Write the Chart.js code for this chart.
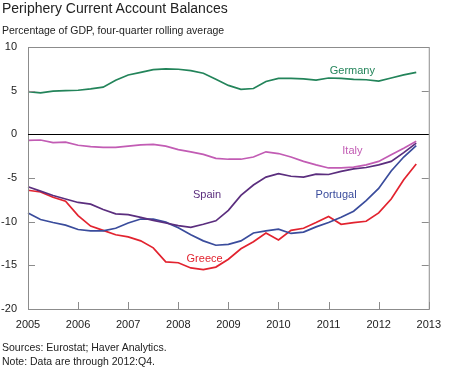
<!DOCTYPE html>
<html>
<head>
<meta charset="utf-8">
<script src="https://cdn.jsdelivr.net/npm/chart.js@4"></script>
<style>
  body { margin: 0; background: #fff; font-family: "Liberation Sans", Arial, sans-serif; color: #222; }
  #wrap { position: relative; width: 450px; height: 369px; overflow: hidden; }
  #chart { position: absolute; left: 0; top: 0; }
  .txt { position: absolute; left: 2px; white-space: nowrap; }
  #title { top: 0px; font-size: 14px; }
  #sub { top: 24px; font-size: 10.5px; }
  #src { top: 341px; font-size: 10.5px; }
  #note { top: 355px; font-size: 10.5px; }
</style>
</head>
<body>
<div id="wrap">
  <canvas id="chart" width="450" height="369"></canvas>
  <div class="txt" id="title">Periphery Current Account Balances</div>
  <div class="txt" id="sub">Percentage of GDP, four-quarter rolling average</div>
  <div class="txt" id="src">Sources: Eurostat; Haver Analytics.</div>
  <div class="txt" id="note">Note: Data are through 2012:Q4.</div>
</div>
<script>
// quarterly labels 2005:Q1 .. 2013:Q1 (last one is only the 2013 axis end)
const quarters = [];
for (let yr = 2005; yr <= 2013; yr++) {
  for (let q = 1; q <= 4; q++) {
    if (yr === 2013 && q > 1) break;
    quarters.push(yr + ":Q" + q);
  }
}

const germany = [4.9, 4.75, 4.95, 5.0, 5.05, 5.2, 5.4, 6.2, 6.8, 7.1, 7.4, 7.5,
  7.45, 7.3, 7.0, 6.3, 5.6, 5.15, 5.25, 6.05, 6.4, 6.4, 6.35, 6.2,
  6.45, 6.4, 6.3, 6.25, 6.1, 6.45, 6.8, 7.1];
const italy = [-0.7, -0.65, -0.95, -0.9, -1.25, -1.4, -1.5, -1.5, -1.35, -1.2, -1.15, -1.35,
  -1.75, -2.0, -2.3, -2.75, -2.85, -2.85, -2.6, -2.0, -2.2, -2.6, -3.1, -3.5,
  -3.85, -3.85, -3.75, -3.5, -3.1, -2.35, -1.6, -0.8];
const spain = [-6.0, -6.5, -7.0, -7.4, -7.8, -8.0, -8.6, -9.1, -9.2, -9.5, -9.85, -10.15,
  -10.45, -10.65, -10.3, -9.9, -8.7, -7.0, -5.8, -4.9, -4.5, -4.8, -4.9, -4.55,
  -4.6, -4.25, -3.95, -3.8, -3.5, -3.1, -2.1, -1.0];
const portugal = [-9.0, -9.75, -10.1, -10.4, -10.9, -11.05, -11.05, -10.75, -10.15, -9.7, -9.7, -10.05,
  -10.7, -11.5, -12.2, -12.7, -12.6, -12.2, -11.3, -11.05, -10.85, -11.35, -11.2, -10.6,
  -10.1, -9.5, -8.8, -7.6, -6.2, -4.2, -2.6, -1.3];
const greece = [-6.4, -6.6, -7.2, -7.65, -9.3, -10.5, -11.0, -11.5, -11.75, -12.2, -13.0, -14.6,
  -14.7, -15.3, -15.5, -15.2, -14.3, -13.1, -12.3, -11.3, -12.1, -11.0, -10.75, -10.1,
  -9.4, -10.3, -10.1, -9.95, -9.0, -7.4, -5.2, -3.4];

const seriesNames = ["Germany", "Italy", "Spain", "Portugal", "Greece"];
const seriesColors = ["#23845a", "#c25cb4", "#5b2e7e", "#3a4c9c", "#e2232f"];

// in-chart labels: text, quarter index (fractional), value
const seriesLabels = [
  { text: "Germany", at: 25.9, val: 7.3, color: "#23845a" },
  { text: "Italy", at: 25.9, val: -1.85, color: "#c25cb4" },
  { text: "Spain", at: 14.3, val: -6.95, color: "#5b2e7e" },
  { text: "Portugal", at: 24.6, val: -6.95, color: "#3a4c9c" },
  { text: "Greece", at: 14.1, val: -14.25, color: "#e2232f" },
];

const yTicks = [10, 5, 0, -5, -10, -15, -20];

const axisDecor = {
  id: "axisDecor",
  afterDatasetsDraw(chart) {
    const { ctx, chartArea: a, scales } = chart;
    ctx.save();
    ctx.strokeStyle = "#8c8c8c";
    ctx.lineWidth = 1;
    // inward ticks on left and right
    yTicks.forEach((v) => {
      const y = Math.round(scales.y.getPixelForValue(v)) + 0.5;
      ctx.beginPath();
      ctx.moveTo(a.left, y); ctx.lineTo(a.left + 7, y);
      ctx.moveTo(a.right, y); ctx.lineTo(a.right - 7, y);
      ctx.stroke();
    });
    // inward ticks on bottom at each year
    quarters.forEach((q, i) => {
      if (i % 4 !== 0) return;
      const x = Math.round(scales.x.getPixelForValue(i)) + 0.5;
      ctx.beginPath();
      ctx.moveTo(x, a.bottom); ctx.lineTo(x, a.bottom - 7);
      ctx.stroke();
    });
    // frame
    ctx.strokeRect(a.left + 0.5, a.top + 0.5, a.right - a.left, a.bottom - a.top);
    // zero line
    const y0 = Math.round(scales.y.getPixelForValue(0)) + 0.5;
    ctx.strokeStyle = "#000";
    ctx.beginPath();
    ctx.moveTo(a.left, y0); ctx.lineTo(a.right, y0);
    ctx.stroke();
    // series labels
    ctx.font = "11px 'Liberation Sans', Arial, sans-serif";
    ctx.textAlign = "center";
    ctx.textBaseline = "middle";
    seriesLabels.forEach((l) => {
      ctx.fillStyle = l.color;
      ctx.fillText(l.text, scales.x.getPixelForValue(l.at), scales.y.getPixelForValue(l.val));
    });
    ctx.restore();
  },
};

const allSeries = [germany, italy, spain, portugal, greece];

new Chart(document.getElementById("chart"), {
  type: "line",
  data: {
    labels: quarters,
    datasets: allSeries.map((d, i) => ({
      label: seriesNames[i],
      data: d,
      borderColor: seriesColors[i],
      borderWidth: 1.7,
      pointRadius: 0,
      tension: 0,
      fill: false,
    })),
  },
  options: {
    responsive: false,
    animation: false,
    layout: { padding: { left: 0, top: 47, right: 12, bottom: 36 } },
    plugins: { legend: { display: false }, tooltip: { enabled: false } },
    scales: {
      x: {
        type: "category",
        offset: false,
        border: { display: false },
        grid: { display: false, drawTicks: false },
        afterFit: (s) => { s.height = 24; },
        ticks: {
          autoSkip: false,
          maxRotation: 0,
          padding: 9,
          color: "#222",
          font: { family: "'Liberation Sans', Arial, sans-serif", size: 11 },
          callback: (v, i) => (i % 4 === 0 ? quarters[i].slice(0, 4) : ""),
        },
      },
      y: {
        min: -20,
        max: 10,
        border: { display: false },
        grid: { display: false, drawTicks: false },
        afterFit: (s) => { s.width = 28; },
        afterBuildTicks: (s) => { s.ticks = yTicks.map((v) => ({ value: v })); },
        ticks: {
          padding: 11,
          color: "#222",
          font: { family: "'Liberation Sans', Arial, sans-serif", size: 11 },
        },
      },
    },
  },
  plugins: [axisDecor],
});
</script>
</body>
</html>
